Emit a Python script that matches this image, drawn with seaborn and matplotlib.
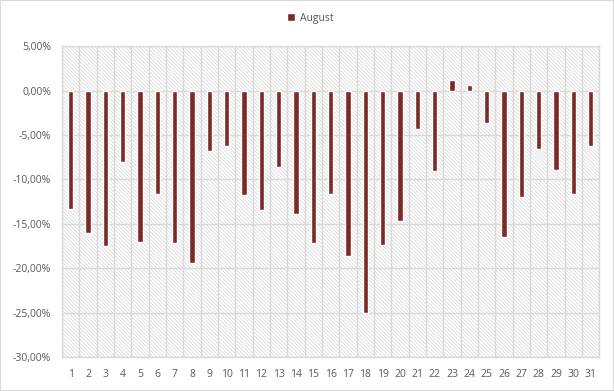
import matplotlib
matplotlib.use("Agg")
import matplotlib.pyplot as plt
import matplotlib.ticker as mticker
from matplotlib.patches import Rectangle
import numpy as np
import pandas as pd
import seaborn as sns

# ---- Data ----
days = [str(d) for d in range(1, 32)]
august = [-13.3, -16.0, -17.5, -8.1, -17.0, -11.6, -17.2, -19.4, -6.8, -6.2,
          -11.8, -13.5, -8.6, -13.9, -17.2, -11.7, -18.6, -25.1, -17.4, -14.7,
          -4.3, -9.1, 1.2, 0.6, -3.6, -16.5, -12.0, -6.6, -8.9, -11.7, -6.3]
y_ticks = [5, 0, -5, -10, -15, -20, -25, -30]

df = pd.DataFrame({"day": days, "value": august})

sns.set_style("white")
plt.rcParams["font.family"] = ["Open Sans", "DejaVu Sans"]
plt.rcParams["hatch.linewidth"] = 0.5
plt.rcParams["hatch.color"] = "#d6d6d6"

text_color = "#595959"
grid_color = "#d9d9d9"

fig = plt.figure(figsize=(6.14, 3.91), dpi=100)
ax = fig.add_axes([0.101, 0.087, 0.875, 0.795])

# hatched plot area background
ax.add_patch(Rectangle((0, 0), 1, 1, transform=ax.transAxes, facecolor="white",
                       edgecolor="#d6d6d6", hatch="\\" * 9, lw=0, zorder=0))

sns.barplot(data=df, x="day", y="value", color="#7b2a28", width=0.3,
            saturation=1, label="August", ax=ax, zorder=3)

ax.set_xlim(-0.5, len(days) - 0.5)
ax.set_ylim(-30, 5)
ax.set_yticks(y_ticks)
ax.yaxis.set_major_formatter(mticker.FuncFormatter(
    lambda v, p: f"{v:.2f}%".replace(".", ",")))
ax.set_xticks(np.arange(len(days)), days)
ax.set_xticks(np.arange(len(days) + 1) - 0.5, minor=True)

ax.grid(axis="y", which="major", color=grid_color, lw=1, zorder=1)
ax.grid(axis="x", which="minor", color=grid_color, lw=1, zorder=1)
ax.set_axisbelow(True)
for s in ax.spines.values():
    s.set_color(grid_color)
    s.set_linewidth(1)

ax.tick_params(axis="both", which="both", length=0, colors=text_color,
               labelsize=7.5)
ax.tick_params(axis="x", pad=9)
ax.tick_params(axis="y", pad=8)
ax.set_xlabel("")
ax.set_ylabel("")

# legend centred on the figure, not the plot area
handles, labels = ax.get_legend_handles_labels()
if ax.get_legend() is not None:
    ax.get_legend().remove()
leg = fig.legend(handles, labels, loc="center",
                 bbox_to_anchor=(0.505, 0.953), frameon=False,
                 fontsize=7.5, handlelength=0.8, handleheight=0.8,
                 handletextpad=0.4)
for t in leg.get_texts():
    t.set_color(text_color)

fig.patches.append(Rectangle((0, 0), 1, 1, transform=fig.transFigure,
                             fill=False, edgecolor="#d9d9d9", lw=1.5))

fig.savefig("out.png", dpi=100)
